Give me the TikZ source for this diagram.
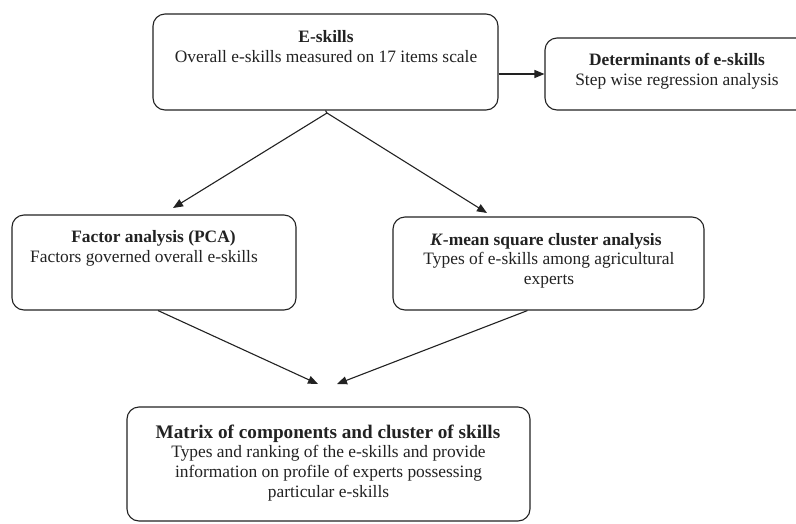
\documentclass[tikz,border=0pt]{standalone}
\usepackage{fontspec}
\setmainfont{Liberation Serif}
\usetikzlibrary{arrows.meta,calc}
\definecolor{ink}{HTML}{222222}
\tikzset{
  box/.style={draw=ink, line width=1.1pt, rounded corners=12pt, inner sep=0pt, fill=none},
  ttl/.style={anchor=base, inner sep=0pt, text=ink, font=\fontsize{17.4}{20}\selectfont\bfseries},
  bigttl/.style={anchor=base, inner sep=0pt, text=ink, font=\fontsize{19.2}{22}\selectfont\bfseries},
  body/.style={anchor=base, inner sep=0pt, text=ink, font=\fontsize{17.4}{20}\selectfont},
  arr/.style={draw=ink, line width=1.1pt, -{Triangle[length=10pt,width=8pt]}},
  link/.style={draw=ink, line width=1.1pt}
}
\begin{document}
\begin{tikzpicture}[x=1pt,y=-1pt]
\useasboundingbox (0,0) rectangle (796,523);
\clip (0,0) rectangle (796,523);
\fill[white] (0,0) rectangle (796,523);
% boxes
\node[box, minimum width=345pt, minimum height=96pt] (es) at (325.5,62) {};
\node[box, minimum width=264pt, minimum height=72pt] (det) at (677,74) {};
\node[box, minimum width=284pt, minimum height=95pt] (fa) at (154,262.5) {};
\node[box, minimum width=311pt, minimum height=93pt] (km) at (548.5,263.5) {};
\node[box, minimum width=403pt, minimum height=114pt] (mx) at (328.5,464) {};
% texts
\node[ttl] (es1) at (326,42.5) {E-skills};
\node[body] (es2) at (326,62.5) {Overall e-skills measured on 17 items scale};
\node[ttl] (det1) at (677,65.5) {Determinants of e-skills};
\node[body] (det2) at (677,85.5) {Step wise regression analysis};
\node[ttl] (fa1) at (153.5,242.5) {Factor analysis (PCA)};
\node[body, anchor=base west] (fa2) at (30,262.5) {Factors governed overall e-skills};
\node[ttl] (km1) at (546,245.5) {\textit{K}-mean square cluster analysis};
\node[body] (km2) at (549,264.5) {Types of e-skills among agricultural};
\node[body] (km3) at (549,284.5) {experts};
\node[bigttl] (mx1) at (328,438) {Matrix of components and cluster of skills};
\node[body] (mx2) at (328.5,457.5) {Types and ranking of the e-skills and provide};
\node[body] (mx3) at (328.5,477.5) {information on profile of experts possessing};
\node[body] (mx4) at (328.5,497.5) {particular e-skills};
% free ends
\coordinate (apex) at (327,113);
\coordinate (faT) at (173,208);
\coordinate (kmT) at (487,213);
\coordinate (mxL) at (318,384);
\coordinate (mxR) at (337,384);
% connectors
\draw[arr] (es.east |- det.west) -- (det.west);
\draw[link] (es.south) -- (apex);
\draw[arr] (apex) -- (faT);
\draw[arr] (apex) -- (kmT);
\draw[arr] ($(fa.south)+(4,0)$) -- (mxL);
\draw[arr] ($(km.south)+(-21,0)$) -- (mxR);
\end{tikzpicture}
\end{document}
